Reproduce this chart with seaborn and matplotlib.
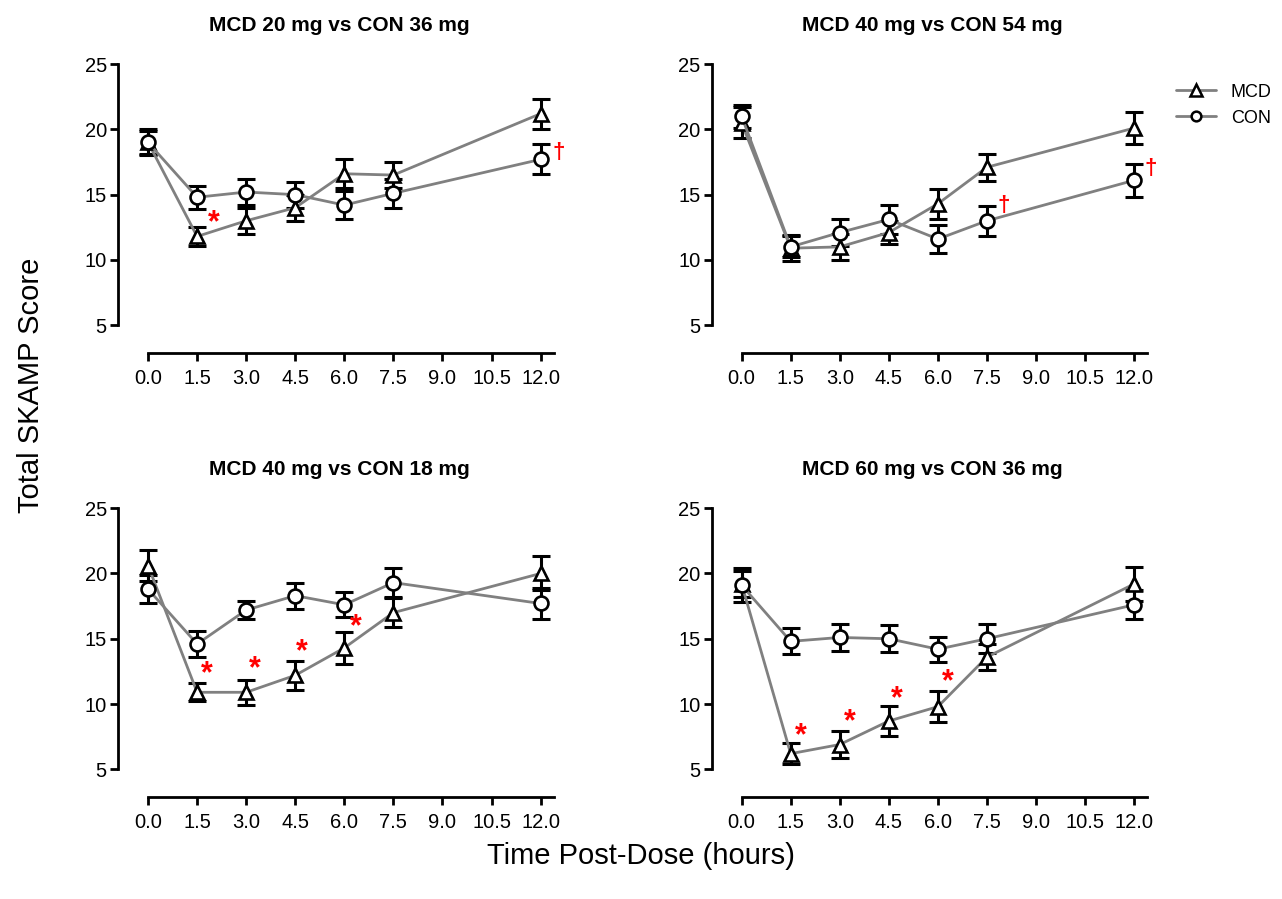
import numpy as np
import pandas as pd
import seaborn as sns
import matplotlib.pyplot as plt
from matplotlib.lines import Line2D

sns.set_style("white")
plt.rcParams['font.family'] = ['Liberation Sans', 'DejaVu Sans']
plt.rcParams['text.color'] = 'black'

time = [0, 1.5, 3.0, 4.5, 6.0, 7.5, 12.0]
xticks = [0, 1.5, 3.0, 4.5, 6.0, 7.5, 9.0, 10.5, 12.0]

titles = ["MCD 20 mg vs CON 36 mg", "MCD 40 mg vs CON 54 mg",
          "MCD 40 mg vs CON 18 mg", "MCD 60 mg vs CON 36 mg"]

mcd_1 = [19.0, 11.8, 13.0, 14.0, 16.6, 16.5, 21.2]
mcd_1_err = [1.0, 0.7, 1.0, 1.0, 1.1, 1.0, 1.15]
con_1 = [19.0, 14.8, 15.2, 15.0, 14.2, 15.1, 17.7]
con_1_err = [0.9, 0.9, 1.0, 1.0, 1.05, 1.1, 1.15]

mcd_2 = [20.5, 10.9, 11.0, 12.1, 14.3, 17.1, 20.1]
mcd_2_err = [1.2, 1.0, 1.0, 0.9, 1.15, 1.05, 1.2]
con_2 = [21.0, 11.0, 12.1, 13.1, 11.6, 13.0, 16.1]
con_2_err = [0.9, 0.8, 1.0, 1.1, 1.05, 1.15, 1.25]

mcd_3 = [20.6, 10.9, 10.9, 12.2, 14.3, 17.0, 20.0]
mcd_3_err = [1.2, 0.7, 0.95, 1.1, 1.2, 1.1, 1.3]
con_3 = [18.8, 14.6, 17.2, 18.3, 17.6, 19.3, 17.7]
con_3_err = [1.1, 1.0, 0.7, 1.0, 0.95, 1.1, 1.15]

mcd_4 = [19.2, 6.2, 6.9, 8.7, 9.8, 13.6, 19.2]
mcd_4_err = [1.0, 0.8, 1.0, 1.15, 1.2, 1.0, 1.3]
con_4 = [19.1, 14.8, 15.1, 15.0, 14.2, 15.0, 17.6]
con_4_err = [1.3, 1.0, 1.0, 1.05, 0.95, 1.1, 1.1]

# significance marks: (symbol, x, y)
marks_1 = [("*", 2.0, 12.8), ("†", 12.55, 18.2)]
marks_2 = [("†", 8.0, 14.2), ("†", 12.5, 17.0)]
marks_3 = [("*", 1.8, 12.3), ("*", 3.25, 12.7), ("*", 4.7, 14.0), ("*", 6.35, 15.9)]
marks_4 = [("*", 1.8, 7.5), ("*", 3.3, 8.6), ("*", 4.75, 10.4), ("*", 6.3, 11.7)]

panels = [(mcd_1, mcd_1_err, con_1, con_1_err, marks_1),
          (mcd_2, mcd_2_err, con_2, con_2_err, marks_2),
          (mcd_3, mcd_3_err, con_3, con_3_err, marks_3),
          (mcd_4, mcd_4_err, con_4, con_4_err, marks_4)]

fig = plt.figure(figsize=(12.82, 8.99), dpi=100)
boxes = [[0.092, 0.607, 0.345, 0.329], [0.555, 0.607, 0.345, 0.329],
         [0.092, 0.113, 0.345, 0.329], [0.555, 0.113, 0.345, 0.329]]

markers = {"MCD": "^", "CON": "o"}

for box, title, (mcd, mcd_err, con, con_err, marks) in zip(boxes, titles, panels):
    ax = fig.add_axes(box)
    df = pd.DataFrame({
        "time": time * 2,
        "score": mcd + con,
        "err": mcd_err + con_err,
        "group": ["MCD"] * len(time) + ["CON"] * len(time),
    })
    for g, sub in df.groupby("group"):
        ax.errorbar(sub["time"], sub["score"], yerr=sub["err"], fmt="none",
                    ecolor="black", elinewidth=2.2, capsize=6.5, capthick=2.2, zorder=2)
    sns.lineplot(data=df, x="time", y="score", style="group", markers=markers,
                 dashes=False, color="#808080", linewidth=2, markersize=10,
                 markerfacecolor="white", markeredgecolor="black", markeredgewidth=1.9,
                 legend=False, ax=ax, zorder=3)
    for sym, x, y in marks:
        ax.text(x, y, sym, color="red", fontsize=22 if sym == "*" else 16,
                fontweight="bold", ha="center", va="center", zorder=4)

    ax.set_xlim(-0.92, 12.6)
    ax.set_ylim(2.85, 25.5)
    ax.set_xticks(xticks)
    ax.set_xticklabels([f"{t:.1f}" for t in xticks])
    ax.set_yticks([5, 10, 15, 20, 25])
    ax.spines["top"].set_visible(False)
    ax.spines["right"].set_visible(False)
    ax.spines["left"].set_bounds(5, 25)
    ax.spines["bottom"].set_bounds(0, 12.4)
    for s in ("left", "bottom"):
        ax.spines[s].set_linewidth(2)
        ax.spines[s].set_color("black")
    ax.tick_params(axis="both", direction="out", length=6, width=2, labelsize=14.5,
                   left=True, bottom=True, colors="black")
    ax.tick_params(axis="y", pad=2)
    ax.tick_params(axis="x", pad=5)
    ax.set_xlabel("")
    ax.set_ylabel("")
    ax.set_title(title, fontsize=15, fontweight="bold", pad=19, color="black")

handles = [Line2D([], [], color="#808080", lw=2, marker="^", ms=9, mfc="white",
                  mec="black", mew=1.8, label="MCD"),
           Line2D([], [], color="#808080", lw=2, marker="o", ms=7, mfc="white",
                  mec="black", mew=1.8, label="CON")]
fig.legend(handles=handles, loc="upper left", bbox_to_anchor=(0.905, 0.925),
           frameon=False, fontsize=13, handlelength=2.2)

fig.text(0.5, 0.048, "Time Post-Dose (hours)", ha="center", va="center", fontsize=21)
fig.text(0.024, 0.571, "Total SKAMP Score", ha="center", va="center", rotation=90, fontsize=21)

fig.savefig("out.png", dpi=100)
